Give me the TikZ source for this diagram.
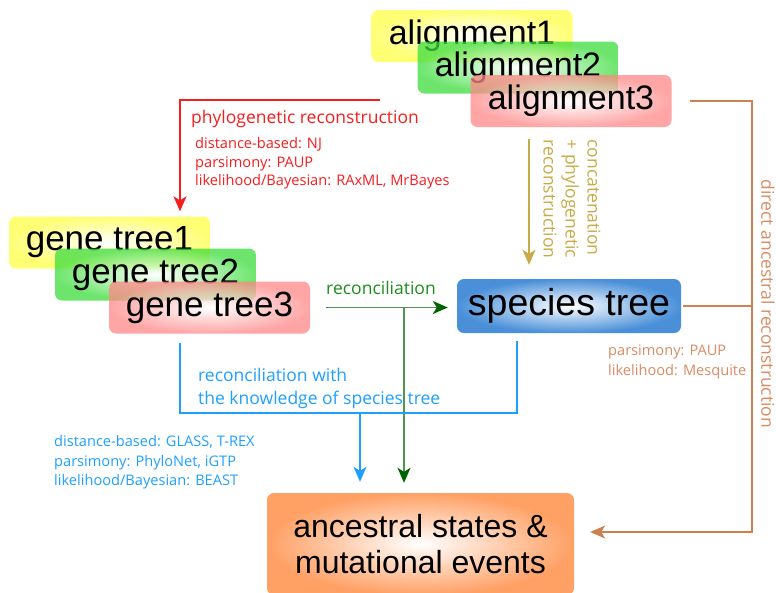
\documentclass[tikz,border=0pt]{standalone}
\usepackage{fontspec}
\setmainfont{Liberation Sans}
\newfontfamily\labfont{Open Sans}
\usetikzlibrary{arrows.meta,calc}
\definecolor{ylw}{RGB}{255,255,70}
\definecolor{grn}{RGB}{60,220,60}
\definecolor{pnk}{RGB}{255,135,135}
\definecolor{spb}{RGB}{74,144,217}
\definecolor{anc}{RGB}{255,160,100}
\definecolor{redc}{RGB}{245,30,30}
\definecolor{bluec}{RGB}{30,160,255}
\definecolor{grnline}{RGB}{80,150,80}
\definecolor{grntip}{RGB}{0,100,0}
\definecolor{grntext}{RGB}{30,140,30}
\definecolor{orline}{RGB}{205,128,80}
\definecolor{ortext}{RGB}{215,140,100}
\definecolor{gold}{RGB}{200,170,70}
\begin{document}
\begin{tikzpicture}[x=1pt,y=-1pt,
  bigbox/.style={rounded corners=7pt, minimum width=201pt, minimum height=52pt,
    inner sep=0pt, fill opacity=0.75, text opacity=1, inner color=white},
  alfont/.style={font=\fontsize{34}{40}\selectfont},
  lab/.style={font=\labfont\fontsize{17.5}{22}\selectfont, inner sep=0pt, align=left},
  det/.style={font=\labfont\fontsize{14.6}{18.5}\selectfont, inner sep=0pt, align=left},
  tip/.style={-{Stealth[length=15pt,width=13pt,inset=4pt]}},
  conn/.style={line width=1.6pt}
]
\useasboundingbox (0,0) rectangle (776,592);
\clip (0,0) rectangle (776,592);

% alignments
\node[bigbox, alfont, outer color=ylw] (a1) at (472,36) {alignment1};
\node[bigbox, alfont, outer color=grn] (a2) at (518,67.5) {alignment2};
\node[bigbox, alfont, outer color=pnk] (a3) at (571,101) {alignment3};

% gene trees
\node[bigbox, font=\fontsize{35}{40}\selectfont, outer color=ylw] (g1) at (109.5,242.5) {gene tree1};
\node[bigbox, font=\fontsize{35}{40}\selectfont, outer color=grn] (g2) at (155.5,274.5) {gene tree2};
\node[bigbox, font=\fontsize{35}{40}\selectfont, outer color=pnk] (g3) at (209.5,307.5) {gene tree3};

% species tree
\node[rounded corners=7pt, minimum width=224pt, minimum height=54pt, inner sep=0pt,
  inner color=white, outer color=spb, font=\fontsize{37.5}{42}\selectfont] (sp) at (569,306) {species tree};

% ancestral
\node[rounded corners=7pt, minimum width=307pt, minimum height=102pt, inner sep=0pt,
  inner color=white, outer color=anc, align=center, font=\fontsize{32}{36}\selectfont] (an) at (420.5,544) {ancestral states \&\\mutational events};

% red: phylogenetic reconstruction
\coordinate (rstart) at (380,100);
\draw[conn, redc, tip, shorten >=5pt] (rstart) -| ([xshift=70.5pt]g1.north);
\node[lab, text=redc, anchor=west] (lphy) at (191,119) {phylogenetic reconstruction};
\node[det, text=redc, anchor=west] (lphyd) at (195,163.5) {distance-based: NJ\\parsimony: PAUP\\likelihood/Bayesian: RAxML, MrBayes};

% gold: concatenation
\draw[conn, gold, tip, shorten <=12pt, shorten >=14pt] ([xshift=-42pt]a3.south) -- ([xshift=-42pt]a3.south |- sp.north);
\node[lab, text=gold, rotate=-90] (lcat) at (572,199) {concatenation\\+ phylogenetic\\reconstruction};

% orange: direct ancestral reconstruction
\coordinate (ocol) at (752,0);
\draw[conn, orline, tip, shorten <=18pt, shorten >=16pt] (a3.east) -| (ocol |- sp.east) |- ([yshift=12pt]an.east);
\draw[conn, orline, shorten <=2pt] (sp.east) -- (ocol |- sp.east);
\node[lab, text=ortext, rotate=-90] (ldir) at (768,304) {direct ancestral reconstruction};
\node[det, text=ortext, anchor=west, font=\labfont\fontsize{14.6}{20}\selectfont] (lmeth) at (608,362) {parsimony: PAUP\\likelihood: Mesquite};

% green: reconciliation
\coordinate (gjoin) at (404,307);
\draw[conn, grnline, -{Stealth[length=15pt,width=13pt,inset=4pt,color=grntip]}, shorten <=16pt, shorten >=9pt] (g3.east) -- (g3.east -| sp.west);
\draw[conn, grnline, -{Stealth[length=15pt,width=13pt,inset=4pt,color=grntip]}, shorten >=10pt] (gjoin) -- (gjoin |- an.north);
\node[lab, text=grntext] (lrec) at (381,288) {reconciliation};

% blue: reconciliation with species tree
\coordinate (bjoin) at (360,413);
\draw[conn, bluec, shorten <=9pt, shorten >=8pt] ([xshift=-29.5pt]g3.south) |- (bjoin) -| ([xshift=-52pt]sp.south);
\draw[conn, bluec, tip, shorten >=11pt] (bjoin) -- (bjoin |- an.north);
\node[lab, text=bluec, anchor=west, font=\labfont\fontsize{17.5}{23}\selectfont] (lrw) at (198,388.5) {reconciliation with\\the knowledge of species tree};
\node[det, text=bluec, anchor=west, font=\labfont\fontsize{14.6}{19.5}\selectfont] (lrwd) at (54,462.5) {distance-based: GLASS, T-REX\\parsimony: PhyloNet, iGTP\\likelihood/Bayesian: BEAST};
\end{tikzpicture}
\end{document}
